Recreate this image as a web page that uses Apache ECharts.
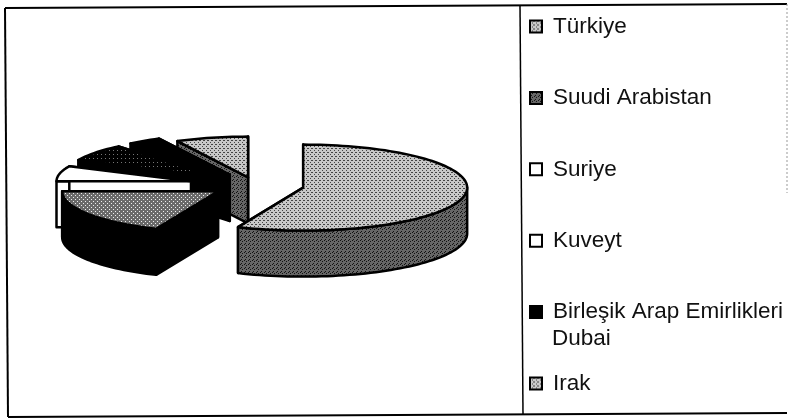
<!DOCTYPE html>
<html>
<head>
<meta charset="utf-8">
<title>Pie</title>
<script src="https://cdn.jsdelivr.net/npm/echarts@6/dist/echarts.min.js"></script>
<style>
  html, body { margin: 0; padding: 0; background: #fff; }
  #main { width: 788px; height: 419px; }
</style>
</head>
<body>
<div id="main"></div>
<script>
var categories = ['Türkiye', 'Suudi Arabistan', 'Suriye', 'Kuveyt', 'Birleşik Arap Emirlikleri', 'Irak'];
var secondLine = 'Dubai';
var shares = [56.5, 18.5, 7, 7, 3.5, 7.5];

// drawing settings, one entry per slice
var explode = [0.30, 0.27, 0.40, 0.31, 0.28, 0.18];
var radius = [1, 0.95, 0.82, 0.92, 0.95, 0.95];
var order = [6, 5, 4, 3, 2, 1];
var DEPTH = 46;

// 4x4 dither tile, scanned look
function tile(bg, fg, cells) {
  var c = document.createElement('canvas');
  c.width = c.height = 4;
  var g = c.getContext('2d');
  g.fillStyle = bg;
  g.fillRect(0, 0, 4, 4);
  g.fillStyle = fg;
  cells.forEach(function (p) { g.fillRect(p[0], p[1], 1, 1); });
  return { image: c, repeat: 'repeat' };
}
var lightGray = tile('#c8c8c8', '#444', [[0, 0], [2, 2], [3, 0]]);
var midGray = tile('#666', '#111', [[0, 0], [2, 1], [1, 3]]);
var midGray2 = tile('#6a6a6a', '#eee', [[1, 1], [3, 3]]);
var blackSpeck = tile('#000', '#000', []);

var topFill = [lightGray, midGray2, '#fff', tile('#000', '#777', [[1, 2]]), '#000', lightGray];
var sideFill = [midGray, blackSpeck, '#fff', blackSpeck, '#000', midGray];
var swatch = [lightGray, midGray, '#fff', '#fff', '#000', lightGray];

function pts(api, cx, cy, r, a0, a1, dy) {
  var out = [];
  var n = Math.max(2, Math.ceil((a1 - a0) / 2));
  for (var i = 0; i <= n; i++) {
    var a = (a0 + (a1 - a0) * i / n) * Math.PI / 180;
    var p = api.coord([cx + r * Math.sin(a), cy + r * Math.cos(a)]);
    out.push([p[0], p[1] + dy]);
  }
  return out;
}

function renderSlice(idx) {
  return function (params, api) {
    var a0 = api.value(0), a1 = api.value(1);
    var mid = (a0 + a1) / 2 * Math.PI / 180;
    var cx = explode[idx] * Math.sin(mid), cy = explode[idx] * Math.cos(mid);
    var r = radius[idx];
    var apex = api.coord([cx, cy]);
    var arcTop = pts(api, cx, cy, r, a0, a1, 0);
    var line = { stroke: '#000', lineWidth: 2.5, lineJoin: 'round' };
    var children = [];

    function face(points, fill) {
      children.push({
        type: 'polygon',
        shape: { points: points },
        style: Object.assign({ fill: fill }, line)
      });
    }
    var first = arcTop[0], last = arcTop[arcTop.length - 1];
    face([apex, first, [first[0], first[1] + DEPTH], [apex[0], apex[1] + DEPTH]], sideFill[idx]);
    face([apex, last, [last[0], last[1] + DEPTH], [apex[0], apex[1] + DEPTH]], sideFill[idx]);

    // outer wall, only the part that faces the viewer
    var w0 = Math.max(a0, 90), w1 = Math.min(a1, 270);
    if (w1 > w0) {
      var wallTop = pts(api, cx, cy, r, w0, w1, 0);
      var wallBottom = pts(api, cx, cy, r, w0, w1, DEPTH).reverse();
      face(wallTop.concat(wallBottom), sideFill[idx]);
    }
    face([apex].concat(arcTop), topFill[idx]);
    return { type: 'group', children: children };
  };
}

var series = [];
var sum = 0;
var total = shares.reduce(function (a, b) { return a + b; }, 0);
categories.forEach(function (name, i) {
  var start = sum / total * 360;
  sum += shares[i];
  series.push({
    type: 'custom',
    name: name,
    z: order[i],
    silent: true,
    coordinateSystem: 'cartesian2d',
    itemStyle: { color: swatch[i], borderColor: '#000', borderWidth: 2 },
    renderItem: renderSlice(i),
    encode: { x: 0, y: 1 },
    data: [[start, sum / total * 360]]
  });
});

var frameLine = { stroke: '#000', lineWidth: 2 };
var chart = echarts.init(document.getElementById('main'), null, { renderer: 'canvas' });
chart.setOption({
  backgroundColor: '#fff',
  animation: false,
  grid: { left: 9, top: 120.5, width: 492, height: 129 },
  xAxis: { type: 'value', min: -1.5, max: 1.5, show: false },
  yAxis: { type: 'value', min: -1.5, max: 1.5, show: false },
  legend: {
    orient: 'vertical',
    left: 529,
    top: 15,
    height: 400,
    padding: 0,
    itemWidth: 12,
    itemHeight: 12,
    itemGap: 48.4,
    icon: 'rect',
    selectedMode: false,
    textStyle: { fontFamily: 'Liberation Sans', fontSize: 22.5, color: '#111', lineHeight: 20, padding: [0, 0, 0, 6] },
    data: categories
  },
  graphic: [
    { type: 'line', silent: true, shape: { x1: 5, y1: 8, x2: 787, y2: 4 }, style: frameLine },
    { type: 'line', silent: true, shape: { x1: 5, y1: 8, x2: 8, y2: 417 }, style: frameLine },
    { type: 'line', silent: true, shape: { x1: 8, y1: 417, x2: 787, y2: 413 }, style: frameLine },
    { type: 'line', silent: true, shape: { x1: 520, y1: 5, x2: 523, y2: 415 }, style: { stroke: '#000', lineWidth: 1.5 } },
    { type: 'line', silent: true, shape: { x1: 787, y1: 4, x2: 787, y2: 193 }, style: { stroke: '#999', lineWidth: 1, lineDash: [2, 2] } },
    { type: 'text', silent: true, left: 552, top: 327, style: { text: secondLine, fontFamily: 'Liberation Sans', fontSize: 22.5, fill: '#111' } }
  ],
  series: series
});
</script>
</body>
</html>
